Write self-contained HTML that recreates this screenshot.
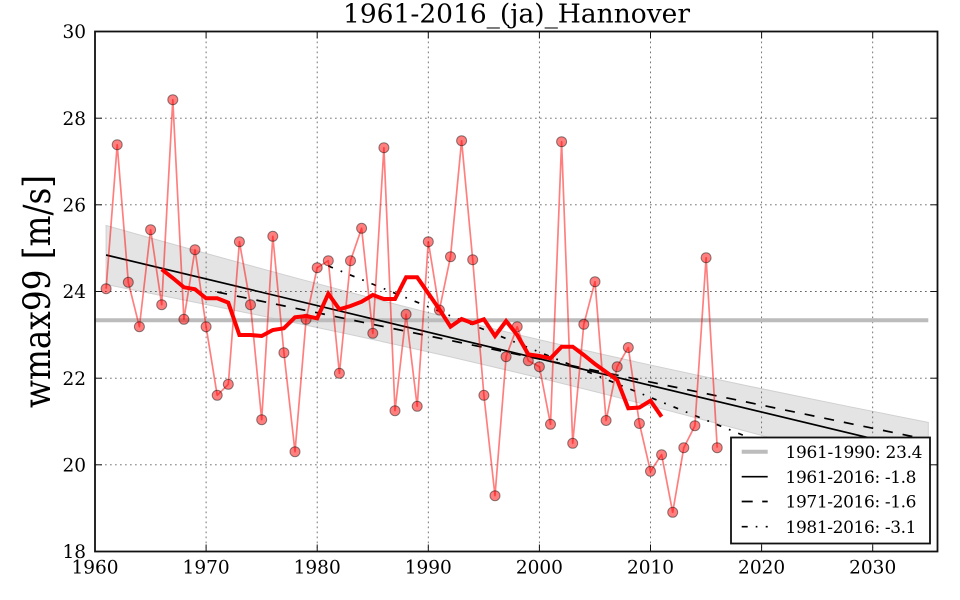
<!DOCTYPE html>
<html>
<head>
<meta charset="utf-8">
<style>
html,body{margin:0;padding:0;background:#fff;}
svg{display:block;}
text{font-family:"DejaVu Serif","Liberation Serif",serif;fill:#000;}
</style>
</head>
<body>
<svg width="960" height="600" viewBox="0 0 960 600" xmlns="http://www.w3.org/2000/svg">
<rect x="0" y="0" width="960" height="600" fill="#fff"/>

<!-- confidence band -->
<polygon fill="#e4e4e4" stroke="#d0d0d0" stroke-width="1"
points="106.1,225.5 150,237.84 200,251.75 250,265.5 300,279.05 350,292.36 400,305.38 450,318.06 516,334.21 550,342.27 600,353.79 650,364.94 700,375.77 750,386.33 800,396.66 850,406.81 928.3,422.41 928.3,481.57 850,459.67 800,445.86 750,432.23 700,418.83 650,405.7 600,392.89 550,380.45 516,372.21 450,356.74 400,345.46 350,334.52 300,323.87 250,313.46 200,303.25 150,293.2 106.1,284.5"/>

<!-- grid -->
<g stroke="#666" stroke-width="0.9" stroke-dasharray="1.7,3.3">
<line x1="206.1" y1="31.5" x2="206.1" y2="551.5"/>
<line x1="317.2" y1="31.5" x2="317.2" y2="551.5"/>
<line x1="428.3" y1="31.5" x2="428.3" y2="551.5"/>
<line x1="539.4" y1="31.5" x2="539.4" y2="551.5"/>
<line x1="650.5" y1="31.5" x2="650.5" y2="551.5"/>
<line x1="761.6" y1="31.5" x2="761.6" y2="551.5"/>
<line x1="872.7" y1="31.5" x2="872.7" y2="551.5"/>
<line x1="95" y1="464.8" x2="937.5" y2="464.8"/>
<line x1="95" y1="378.2" x2="937.5" y2="378.2"/>
<line x1="95" y1="291.5" x2="937.5" y2="291.5"/>
<line x1="95" y1="204.8" x2="937.5" y2="204.8"/>
<line x1="95" y1="118.2" x2="937.5" y2="118.2"/>
</g>

<!-- mean 1961-1990 -->
<line x1="95" y1="320.3" x2="928.3" y2="320.3" stroke="#bcbcbc" stroke-width="4"/>

<!-- trend lines -->
<line x1="106.1" y1="255" x2="928.3" y2="452" stroke="#000" stroke-width="1.7"/>
<line x1="217.2" y1="292" x2="928.3" y2="439.8" stroke="#000" stroke-width="1.7" stroke-dasharray="10,10"/>
<line x1="328.3" y1="266" x2="928.3" y2="510.8" stroke="#000" stroke-width="1.7" stroke-dasharray="5,8.3,1.7,8.3"/>

<!-- data line -->
<polyline fill="none" stroke="#ff0000" stroke-opacity="0.5" stroke-width="1.7" stroke-linejoin="round"
points="106.1,288.7 117.2,144.7 128.3,282.3 139.4,326.7 150.6,229.7 161.7,304.7 172.8,99.7 183.9,319.3 195,249.7 206.1,326.7 217.2,395.3 228.3,384.3 239.4,241.7 250.5,304.7 261.7,419.7 272.8,236.3 283.9,352.7 295,451.7 306.1,319.3 317.2,267.7 328.3,260.7 339.4,373.3 350.5,260.7 361.6,228.3 372.8,333.3 383.9,147.7 395,410.7 406.1,314.3 417.2,406.3 428.3,241.7 439.4,310 450.5,256.7 461.6,140.7 472.7,259.7 483.9,395.3 495,495.7 506.1,356.7 517.2,326.7 528.3,360.7 539.4,366.7 550.5,424.3 561.6,141.7 572.7,443.3 583.8,324.3 595,281.7 606.1,420.5 617.2,366.7 628.3,347.5 639.4,423.5 650.5,471.3 661.6,454.7 672.7,512.3 683.8,447.7 694.9,425.7 706.1,257.7 717.2,447.7"/>

<!-- markers -->
<g fill="#ff0000" fill-opacity="0.5" stroke="#000" stroke-opacity="0.45" stroke-width="1">
<circle cx="106.1" cy="288.7" r="5"/><circle cx="117.2" cy="144.7" r="5"/><circle cx="128.3" cy="282.3" r="5"/><circle cx="139.4" cy="326.7" r="5"/><circle cx="150.6" cy="229.7" r="5"/><circle cx="161.7" cy="304.7" r="5"/><circle cx="172.8" cy="99.7" r="5"/><circle cx="183.9" cy="319.3" r="5"/><circle cx="195" cy="249.7" r="5"/><circle cx="206.1" cy="326.7" r="5"/>
<circle cx="217.2" cy="395.3" r="5"/><circle cx="228.3" cy="384.3" r="5"/><circle cx="239.4" cy="241.7" r="5"/><circle cx="250.5" cy="304.7" r="5"/><circle cx="261.7" cy="419.7" r="5"/><circle cx="272.8" cy="236.3" r="5"/><circle cx="283.9" cy="352.7" r="5"/><circle cx="295" cy="451.7" r="5"/><circle cx="306.1" cy="319.3" r="5"/><circle cx="317.2" cy="267.7" r="5"/>
<circle cx="328.3" cy="260.7" r="5"/><circle cx="339.4" cy="373.3" r="5"/><circle cx="350.5" cy="260.7" r="5"/><circle cx="361.6" cy="228.3" r="5"/><circle cx="372.8" cy="333.3" r="5"/><circle cx="383.9" cy="147.7" r="5"/><circle cx="395" cy="410.7" r="5"/><circle cx="406.1" cy="314.3" r="5"/><circle cx="417.2" cy="406.3" r="5"/><circle cx="428.3" cy="241.7" r="5"/>
<circle cx="439.4" cy="310" r="5"/><circle cx="450.5" cy="256.7" r="5"/><circle cx="461.6" cy="140.7" r="5"/><circle cx="472.7" cy="259.7" r="5"/><circle cx="483.9" cy="395.3" r="5"/><circle cx="495" cy="495.7" r="5"/><circle cx="506.1" cy="356.7" r="5"/><circle cx="517.2" cy="326.7" r="5"/><circle cx="528.3" cy="360.7" r="5"/><circle cx="539.4" cy="366.7" r="5"/>
<circle cx="550.5" cy="424.3" r="5"/><circle cx="561.6" cy="141.7" r="5"/><circle cx="572.7" cy="443.3" r="5"/><circle cx="583.8" cy="324.3" r="5"/><circle cx="595" cy="281.7" r="5"/><circle cx="606.1" cy="420.5" r="5"/><circle cx="617.2" cy="366.7" r="5"/><circle cx="628.3" cy="347.5" r="5"/><circle cx="639.4" cy="423.5" r="5"/><circle cx="650.5" cy="471.3" r="5"/>
<circle cx="661.6" cy="454.7" r="5"/><circle cx="672.7" cy="512.3" r="5"/><circle cx="683.8" cy="447.7" r="5"/><circle cx="694.9" cy="425.7" r="5"/><circle cx="706.1" cy="257.7" r="5"/><circle cx="717.2" cy="447.7" r="5"/>
</g>

<!-- moving average -->
<polyline fill="none" stroke="#ff0000" stroke-width="4" stroke-linejoin="miter"
points="161.7,269.3 172.8,278 183.9,287.3 195,289.3 206.1,298.3 217.2,298.3 228.3,302.7 239.4,335 250.5,335 261.7,336 272.8,330 283.9,328.3 295,317.3 306.1,316 317.2,318.3 328.3,293.7 339.4,309.3 350.5,306 361.6,301.7 372.8,295 383.9,299 395,299 406.1,277.3 417.2,277.3 428.3,293.3 439.4,309.3 450.5,326.7 461.6,319 472.7,323.3 483.9,319.3 495,336 506.1,321 517.2,335 528.3,354.3 539.4,356 550.5,358.3 561.6,346.7 572.7,346.7 583.8,355 595,364 606.1,372 617.2,380 628.3,408.3 639.4,407.5 650.5,400.7 661.6,416.7"/>

<!-- spines -->
<rect x="95" y="31.5" width="842.5" height="520" fill="none" stroke="#111" stroke-width="1.8"/>

<!-- ticks -->
<g stroke="#111" stroke-width="1">
<line x1="206.1" y1="551.5" x2="206.1" y2="544.5"/><line x1="317.2" y1="551.5" x2="317.2" y2="544.5"/><line x1="428.3" y1="551.5" x2="428.3" y2="544.5"/><line x1="539.4" y1="551.5" x2="539.4" y2="544.5"/><line x1="650.5" y1="551.5" x2="650.5" y2="544.5"/><line x1="761.6" y1="551.5" x2="761.6" y2="544.5"/><line x1="872.7" y1="551.5" x2="872.7" y2="544.5"/>
<line x1="206.1" y1="31.5" x2="206.1" y2="38.5"/><line x1="317.2" y1="31.5" x2="317.2" y2="38.5"/><line x1="428.3" y1="31.5" x2="428.3" y2="38.5"/><line x1="539.4" y1="31.5" x2="539.4" y2="38.5"/><line x1="650.5" y1="31.5" x2="650.5" y2="38.5"/><line x1="761.6" y1="31.5" x2="761.6" y2="38.5"/><line x1="872.7" y1="31.5" x2="872.7" y2="38.5"/>
<line x1="95" y1="464.8" x2="102" y2="464.8"/><line x1="95" y1="378.2" x2="102" y2="378.2"/><line x1="95" y1="291.5" x2="102" y2="291.5"/><line x1="95" y1="204.8" x2="102" y2="204.8"/><line x1="95" y1="118.2" x2="102" y2="118.2"/>
<line x1="937.5" y1="464.8" x2="930.5" y2="464.8"/><line x1="937.5" y1="378.2" x2="930.5" y2="378.2"/><line x1="937.5" y1="291.5" x2="930.5" y2="291.5"/><line x1="937.5" y1="204.8" x2="930.5" y2="204.8"/><line x1="937.5" y1="118.2" x2="930.5" y2="118.2"/>
</g>

<!-- y tick labels -->
<g font-size="18.5" text-anchor="end">
<text x="86" y="558.2">18</text>
<text x="86" y="471.5">20</text>
<text x="86" y="384.9">22</text>
<text x="86" y="298.2">24</text>
<text x="86" y="211.5">26</text>
<text x="86" y="124.9">28</text>
<text x="86" y="38.2">30</text>
</g>

<!-- x tick labels -->
<g font-size="18.5" text-anchor="middle">
<text x="95" y="573.5">1960</text>
<text x="206.1" y="573.5">1970</text>
<text x="317.2" y="573.5">1980</text>
<text x="428.3" y="573.5">1990</text>
<text x="539.4" y="573.5">2000</text>
<text x="650.5" y="573.5">2010</text>
<text x="761.6" y="573.5">2020</text>
<text x="872.7" y="573.5">2030</text>
</g>

<!-- title -->
<text x="516.5" y="22.7" font-size="26.5" text-anchor="middle" textLength="347" lengthAdjust="spacingAndGlyphs">1961-2016_(ja)_Hannover</text>

<!-- y label -->
<text transform="translate(50,291.5) rotate(-90)" font-size="37" text-anchor="middle" textLength="233" lengthAdjust="spacingAndGlyphs">wmax99 [m/s]</text>

<!-- legend -->
<rect x="731" y="437.5" width="199" height="106" fill="#fff" stroke="#111" stroke-width="1.8"/>
<line x1="741.7" y1="451.7" x2="767.7" y2="451.7" stroke="#bcbcbc" stroke-width="4"/>
<line x1="741.7" y1="476.7" x2="767.7" y2="476.7" stroke="#000" stroke-width="1.7"/>
<line x1="741.7" y1="501.5" x2="767.7" y2="501.5" stroke="#000" stroke-width="1.7" stroke-dasharray="11,9.5"/>
<line x1="741.7" y1="526.7" x2="767.7" y2="526.7" stroke="#000" stroke-width="1.7" stroke-dasharray="6,8,1.7,8.3"/>
<g font-size="17">
<text x="785.5" y="457.8" textLength="137" lengthAdjust="spacing">1961-1990: 23.4</text>
<text x="785.5" y="482.8" textLength="131" lengthAdjust="spacing">1961-2016: -1.8</text>
<text x="785.5" y="507.6" textLength="131" lengthAdjust="spacing">1971-2016: -1.6</text>
<text x="785.5" y="532.8" textLength="131" lengthAdjust="spacing">1981-2016: -3.1</text>
</g>
</svg>
</body>
</html>
